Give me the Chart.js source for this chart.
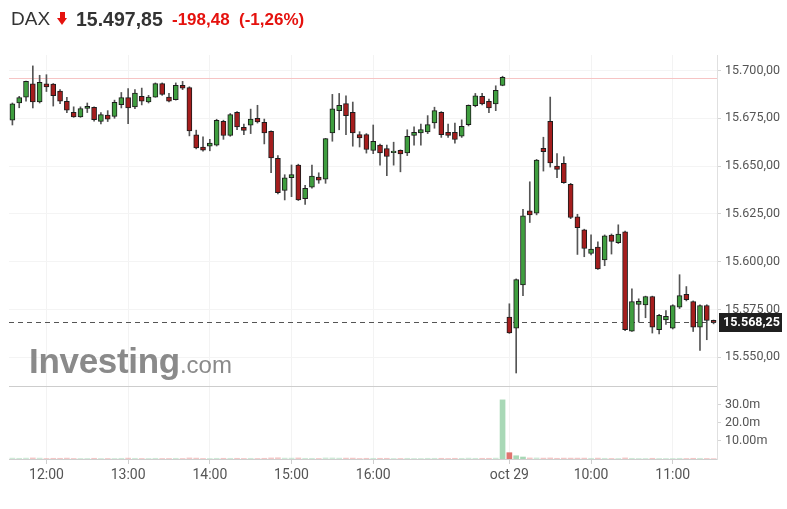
<!DOCTYPE html>
<html><head><meta charset="utf-8">
<script src="https://cdn.jsdelivr.net/npm/chart.js@4.4.1/dist/chart.umd.min.js"></script>
<style>
html,body{margin:0;padding:0;background:#fff;}
#wrap{position:relative;width:787px;height:509px;overflow:hidden;}
#c{position:absolute;left:0;top:0;}
.t{position:absolute;white-space:nowrap;font-family:"Liberation Sans",Arial,sans-serif;}
#dax{left:11px;top:9px;font-size:19px;line-height:19px;color:#333;}
#arr{position:absolute;left:57px;top:12px;width:11px;height:13px;}
#arr .s{position:absolute;left:3px;top:0;width:5px;height:7px;background:#e5120e;}
#arr .h{position:absolute;left:0;top:6px;width:0;height:0;border-left:5.5px solid transparent;border-right:5.5px solid transparent;border-top:7px solid #e5120e;}
#last{left:76px;top:9px;font-size:19.5px;line-height:20px;font-weight:bold;color:#333;}
#chg{left:172px;top:11px;font-size:17px;line-height:17px;font-weight:bold;color:#e5120e;}
#pct{left:239px;top:11px;font-size:17px;line-height:17px;font-weight:bold;color:#e5120e;}
#logo{left:29px;top:343px;font-size:35px;line-height:35px;font-weight:bold;color:#8a8a8a;letter-spacing:-0.3px;}
#logo span{font-weight:normal;font-size:24px;letter-spacing:0;}
</style>
</head><body>
<div id="wrap">
<canvas id="c" width="787" height="509"></canvas>
<div class="t" id="dax">DAX</div>
<div id="arr"><div class="s"></div><div class="h"></div></div>
<div class="t" id="last">15.497,85</div>
<div class="t" id="chg">-198,48</div>
<div class="t" id="pct">(-1,26%)</div>
<div class="t" id="logo">Investing<span>.com</span></div>
</div>
<script>
// ---- data ----
const categories = [
 "11:35","11:40","11:45","11:50","11:55","12:00","12:05","12:10","12:15","12:20","12:25","12:30","12:35","12:40","12:45","12:50","12:55",
 "13:00","13:05","13:10","13:15","13:20","13:25","13:30","13:35","13:40","13:45","13:50","13:55",
 "14:00","14:05","14:10","14:15","14:20","14:25","14:30","14:35","14:40","14:45","14:50","14:55",
 "15:00","15:05","15:10","15:15","15:20","15:25","15:30","15:35","15:40","15:45","15:50","15:55",
 "16:00","16:05","16:10","16:15","16:20","16:25","16:30","16:35","16:40","16:45","16:50","16:55",
 "17:00","17:05","17:10","17:15","17:20","17:25","17:30","17:35",
 "09:00","09:05","09:10","09:15","09:20","09:25","09:30","09:35","09:40","09:45","09:50","09:55",
 "10:00","10:05","10:10","10:15","10:20","10:25","10:30","10:35","10:40","10:45","10:50","10:55",
 "11:00","11:05","11:10","11:15","11:20","11:25","11:30"
];
const opens = [
 15674.0,15683.0,15686.0,15693.0,15683.5,15693.0,15692.9,15689.2,15683.9,15678.1,
 15675.7,15680.1,15680.7,15673.4,15676.7,15676.0,15682.1,15685.8,15680.9,15686.5,
 15683.5,15686.1,15693.1,15686.1,15684.7,15692.3,15691.0,15666.3,15659.9,15660.4,
 15661.0,15673.4,15666.1,15678.1,15670.3,15671.4,15675.0,15672.9,15668.2,15654.0,
 15637.3,15643.9,15650.5,15633.0,15639.0,15644.3,15643.1,15667.3,15679.0,15682.7,
 15678.1,15666.5,15666.5,15658.2,15661.0,15659.2,15657.0,15658.2,15656.9,15666.0,
 15667.3,15667.9,15672.6,15678.1,15667.7,15667.7,15665.6,15671.7,15681.6,15686.5,
 15683.9,15682.5,15692.2,
 15571.0,15565.3,15587.9,15626.6,15625.4,15659.3,15673.4,15650.0,15651.4,15640.5,
 15623.5,15616.7,15604.3,15607.6,15600.9,15613.9,15610.0,15615.6,15563.7,15577.6,
 15577.4,15581.8,15564.4,15569.6,15565.3,15576.2,15582.9,15579.2,15565.8,15577.1,
 15569.3
];
const highs = [
 15683.0,15686.5,15694.5,15702.4,15697.5,15697.8,15693.2,15690.0,15686.0,15681.0,
 15681.0,15683.0,15681.0,15678.0,15679.0,15684.5,15688.5,15690.5,15690.0,15690.8,
 15687.0,15693.5,15693.5,15688.0,15693.5,15694.3,15691.5,15668.8,15665.3,15664.0,
 15674.5,15674.0,15677.5,15678.5,15672.0,15679.8,15681.8,15674.6,15668.5,15655.5,
 15645.5,15650.6,15651.0,15640.0,15650.5,15646.5,15664.5,15687.5,15688.0,15686.8,
 15683.5,15668.0,15667.0,15671.5,15661.5,15661.0,15662.5,15658.5,15669.0,15670.5,
 15672.0,15676.4,15680.8,15678.5,15672.0,15672.5,15674.2,15682.0,15688.0,15688.0,
 15685.0,15692.0,15697.0,
 15578.0,15591.0,15627.4,15641.8,15653.5,15665.1,15686.1,15656.6,15654.9,15641.0,
 15624.8,15617.0,15614.1,15610.4,15614.0,15614.5,15619.3,15616.0,15585.8,15580.6,
 15582.0,15582.0,15572.5,15574.5,15577.5,15593.2,15587.0,15579.5,15577.5,15577.5,
 15569.5
];
const lows = [
 15671.5,15680.5,15684.0,15680.4,15683.0,15689.0,15681.4,15682.6,15678.0,15675.5,
 15675.5,15678.0,15673.5,15672.0,15673.3,15675.0,15680.4,15672.2,15680.0,15682.0,
 15683.0,15686.0,15687.0,15683.5,15684.5,15690.0,15665.8,15659.0,15657.8,15658.0,
 15660.5,15664.0,15665.6,15669.0,15666.5,15667.0,15672.5,15661.6,15646.6,15635.5,
 15632.3,15634.0,15632.0,15630.0,15638.5,15641.0,15641.0,15663.0,15669.0,15666.5,
 15660.4,15660.0,15656.8,15656.5,15650.5,15645.0,15650.5,15647.0,15655.5,15661.0,
 15661.0,15667.0,15669.8,15665.0,15665.0,15662.0,15665.0,15671.0,15681.0,15682.0,
 15678.0,15679.0,15692.0,
 15562.5,15541.8,15582.3,15620.5,15624.5,15647.4,15649.5,15643.9,15641.0,15622.5,
 15603.8,15602.6,15603.6,15596.0,15597.9,15604.0,15609.5,15564.0,15563.5,15568.4,
 15570.7,15562.7,15562.3,15567.2,15564.8,15575.5,15579.5,15563.5,15553.6,15559.2,
 15567.5
];
const closes = [
 15682.5,15685.8,15694.3,15683.5,15693.8,15691.4,15686.8,15683.9,15679.2,15675.7,
 15680.1,15681.3,15674.3,15676.9,15674.6,15683.3,15685.8,15680.4,15688.2,15683.9,
 15686.1,15693.1,15687.5,15683.9,15692.3,15690.8,15668.4,15659.5,15658.3,15662.1,
 15674.0,15666.0,15676.9,15670.5,15668.6,15674.6,15673.1,15667.3,15654.3,15636.1,
 15643.9,15645.5,15632.3,15638.4,15644.8,15642.6,15664.4,15680.0,15681.8,15676.4,
 15667.3,15664.7,15658.7,15663.0,15656.9,15655.0,15657.8,15656.4,15665.6,15667.7,
 15669.1,15671.7,15679.0,15666.5,15666.0,15663.9,15670.8,15681.8,15686.8,15682.5,
 15680.4,15689.6,15696.4,
 15562.7,15590.6,15624.0,15624.5,15653.1,15657.5,15651.7,15648.3,15641.3,15623.1,
 15617.8,15606.9,15606.6,15596.2,15613.5,15610.6,15614.4,15564.4,15579.2,15579.3,
 15581.8,15565.8,15571.9,15571.5,15577.1,15582.3,15580.1,15565.8,15577.1,15569.3,
 15568.25
];
// volume in millions
const volumes = [
 0.5,0.4,0.5,0.6,0.5,0.3,0.4,0.4,0.5,0.3,
 0.3,0.3,0.4,0.3,0.3,0.3,0.4,0.5,0.4,0.3,
 0.3,0.4,0.3,0.3,0.4,0.3,0.6,0.5,0.3,0.3,
 0.4,0.4,0.4,0.4,0.3,0.4,0.3,0.4,0.6,0.7,
 0.5,0.5,0.6,0.4,0.4,0.3,0.6,0.6,0.5,0.5,
 0.5,0.3,0.4,0.4,0.4,0.4,0.3,0.3,0.4,0.3,
 0.3,0.4,0.4,0.4,0.3,0.4,0.4,0.5,0.4,0.4,
 0.4,0.5,32.8,
 3.5,1.8,1.1,0.6,0.6,0.5,0.6,0.4,0.5,0.5,
 0.5,0.5,0.4,0.5,0.4,0.3,0.3,0.6,0.4,0.3,
 0.3,0.4,0.3,0.3,0.3,0.4,0.3,0.4,0.4,0.3,
 0.2
];
const tickIndex = [5,17,29,41,53,73,85,97];
const tickText = ["12:00","13:00","14:00","15:00","16:00","oct 29","10:00","11:00"];
const priceTicks = [15550,15575,15600,15625,15650,15675,15700];
const volTicks = [10,20,30];
const volTickText = ["10.00m","20.0m","30.0m"];
const prevClose = 15696.33;
const lastPrice = 15568.25;

// ---- helpers ----
function fmt(v){const p=v.toFixed(2).split('.');return p[0].replace(/\B(?=(\d{3})+(?!\d))/g,'.')+','+p[1];}
const up = opens.map((o,i)=>closes[i]>=o);
const bodyData = opens.map((o,i)=>[o,closes[i]]);
const wickData = lows.map((l,i)=>[l,highs[i]]);
const volColors = volumes.map((v,i)=> v>1 ? (up[i]?'#a8d8b6':'#e07470') : (up[i]?'rgba(168,216,182,0.55)':'rgba(224,116,112,0.4)'));

const overlay = {
  id:'overlay',
  beforeDatasetsDraw(chart){
    const {ctx, chartArea:a, scales} = chart;
    const y = scales.y, yv = scales.yv;
    ctx.save();
    ctx.lineWidth = 1;
    const sy = Math.round(yv.top)+0.5;
    ctx.strokeStyle = '#cdcdcd';
    ctx.beginPath(); ctx.moveTo(a.left, sy); ctx.lineTo(a.right, sy); ctx.stroke();
    const py = Math.round(y.getPixelForValue(prevClose))+0.5;
    ctx.strokeStyle = '#f6c4c4';
    ctx.beginPath(); ctx.moveTo(a.left, py); ctx.lineTo(a.right, py); ctx.stroke();
    const ly = Math.round(y.getPixelForValue(lastPrice))+0.5;
    ctx.strokeStyle = '#555';
    ctx.setLineDash([5,4]);
    ctx.beginPath(); ctx.moveTo(a.left, ly); ctx.lineTo(a.right, ly); ctx.stroke();
    ctx.restore();
  },
  afterDraw(chart){
    const {ctx, chartArea:a, scales} = chart;
    const y = scales.y;
    const ly = y.getPixelForValue(lastPrice);
    ctx.save();
    ctx.fillStyle = '#1f1f1f';
    ctx.fillRect(a.right+2, Math.round(ly)-9, 63, 19);
    ctx.fillStyle = '#fff';
    ctx.font = 'bold 12.5px Roboto';
    ctx.textBaseline = 'middle';
    ctx.textAlign = 'left';
    ctx.fillText(fmt(lastPrice), a.right+6, Math.round(ly)+0.5);
    ctx.restore();
  }
};

Chart.defaults.font.family = 'Roboto';
new Chart(document.getElementById('c'), {
  type: 'bar',
  data: {
    labels: categories,
    datasets: [
      {
        label:'wick', data: wickData, yAxisID:'y', grouped:false, order:2,
        barThickness:1, backgroundColor:'#555', borderWidth:0
      },
      {
        label:'body', data: bodyData, yAxisID:'y', grouped:false, order:1,
        barThickness:5,
        backgroundColor: up.map(u=>u?'#3f9e3f':'#a51d1d'),
        borderColor:'#1c1c1c', borderWidth:1, borderSkipped:false
      },
      {
        label:'vol', data: volumes, yAxisID:'yv', grouped:false, order:3,
        barThickness:5,
        backgroundColor: volColors,
        borderWidth:0
      }
    ]
  },
  options: {
    responsive:false, animation:false, devicePixelRatio:1,
    layout:{padding:{left:9, top:55, right:0, bottom:0}},
    plugins:{legend:{display:false}, tooltip:{enabled:false}},
    scales:{
      x:{
        type:'category', offset:true,
        grid:{offset:false, color:'#f3f3f3', tickColor:'#cfcfcf', tickLength:5, drawOnChartArea:true},
        border:{color:'#cfcfcf'},
        ticks:{autoSkip:false, maxRotation:0, minRotation:0, padding:3, color:'#555', font:{size:14},
          callback:(v,i)=>{const k=tickIndex.indexOf(i); return k>=0?tickText[k]:null;}},
        afterFit:(s)=>{s.height=50;}
      },
      y:{
        type:'linear', position:'right', stack:'p', stackWeight:331,
        min:15535, max:15708.1,
        grid:{color:'#f4f4f4', tickColor:'#d5d5d5', tickLength:4},
        border:{color:'#e0e0e0'},
        afterBuildTicks:(s)=>{s.ticks = priceTicks.map(v=>({value:v}));},
        ticks:{padding:4, color:'#555', font:{size:12.5}, callback:(v)=>fmt(v)},
        afterFit:(s)=>{s.width=70;}
      },
      yv:{
        type:'linear', position:'right', stack:'p', stackWeight:73,
        min:0, max:40.5,
        grid:{drawOnChartArea:false, tickColor:'#d5d5d5', tickLength:4},
        border:{color:'#e0e0e0'},
        afterBuildTicks:(s)=>{s.ticks = volTicks.map(v=>({value:v}));},
        ticks:{padding:4, color:'#555', font:{size:12.5}, callback:(v)=>{const k=volTicks.indexOf(v); return k>=0?volTickText[k]:'';}},
        afterFit:(s)=>{s.width=70;}
      }
    }
  },
  plugins:[overlay]
});
</script>
</body></html>
